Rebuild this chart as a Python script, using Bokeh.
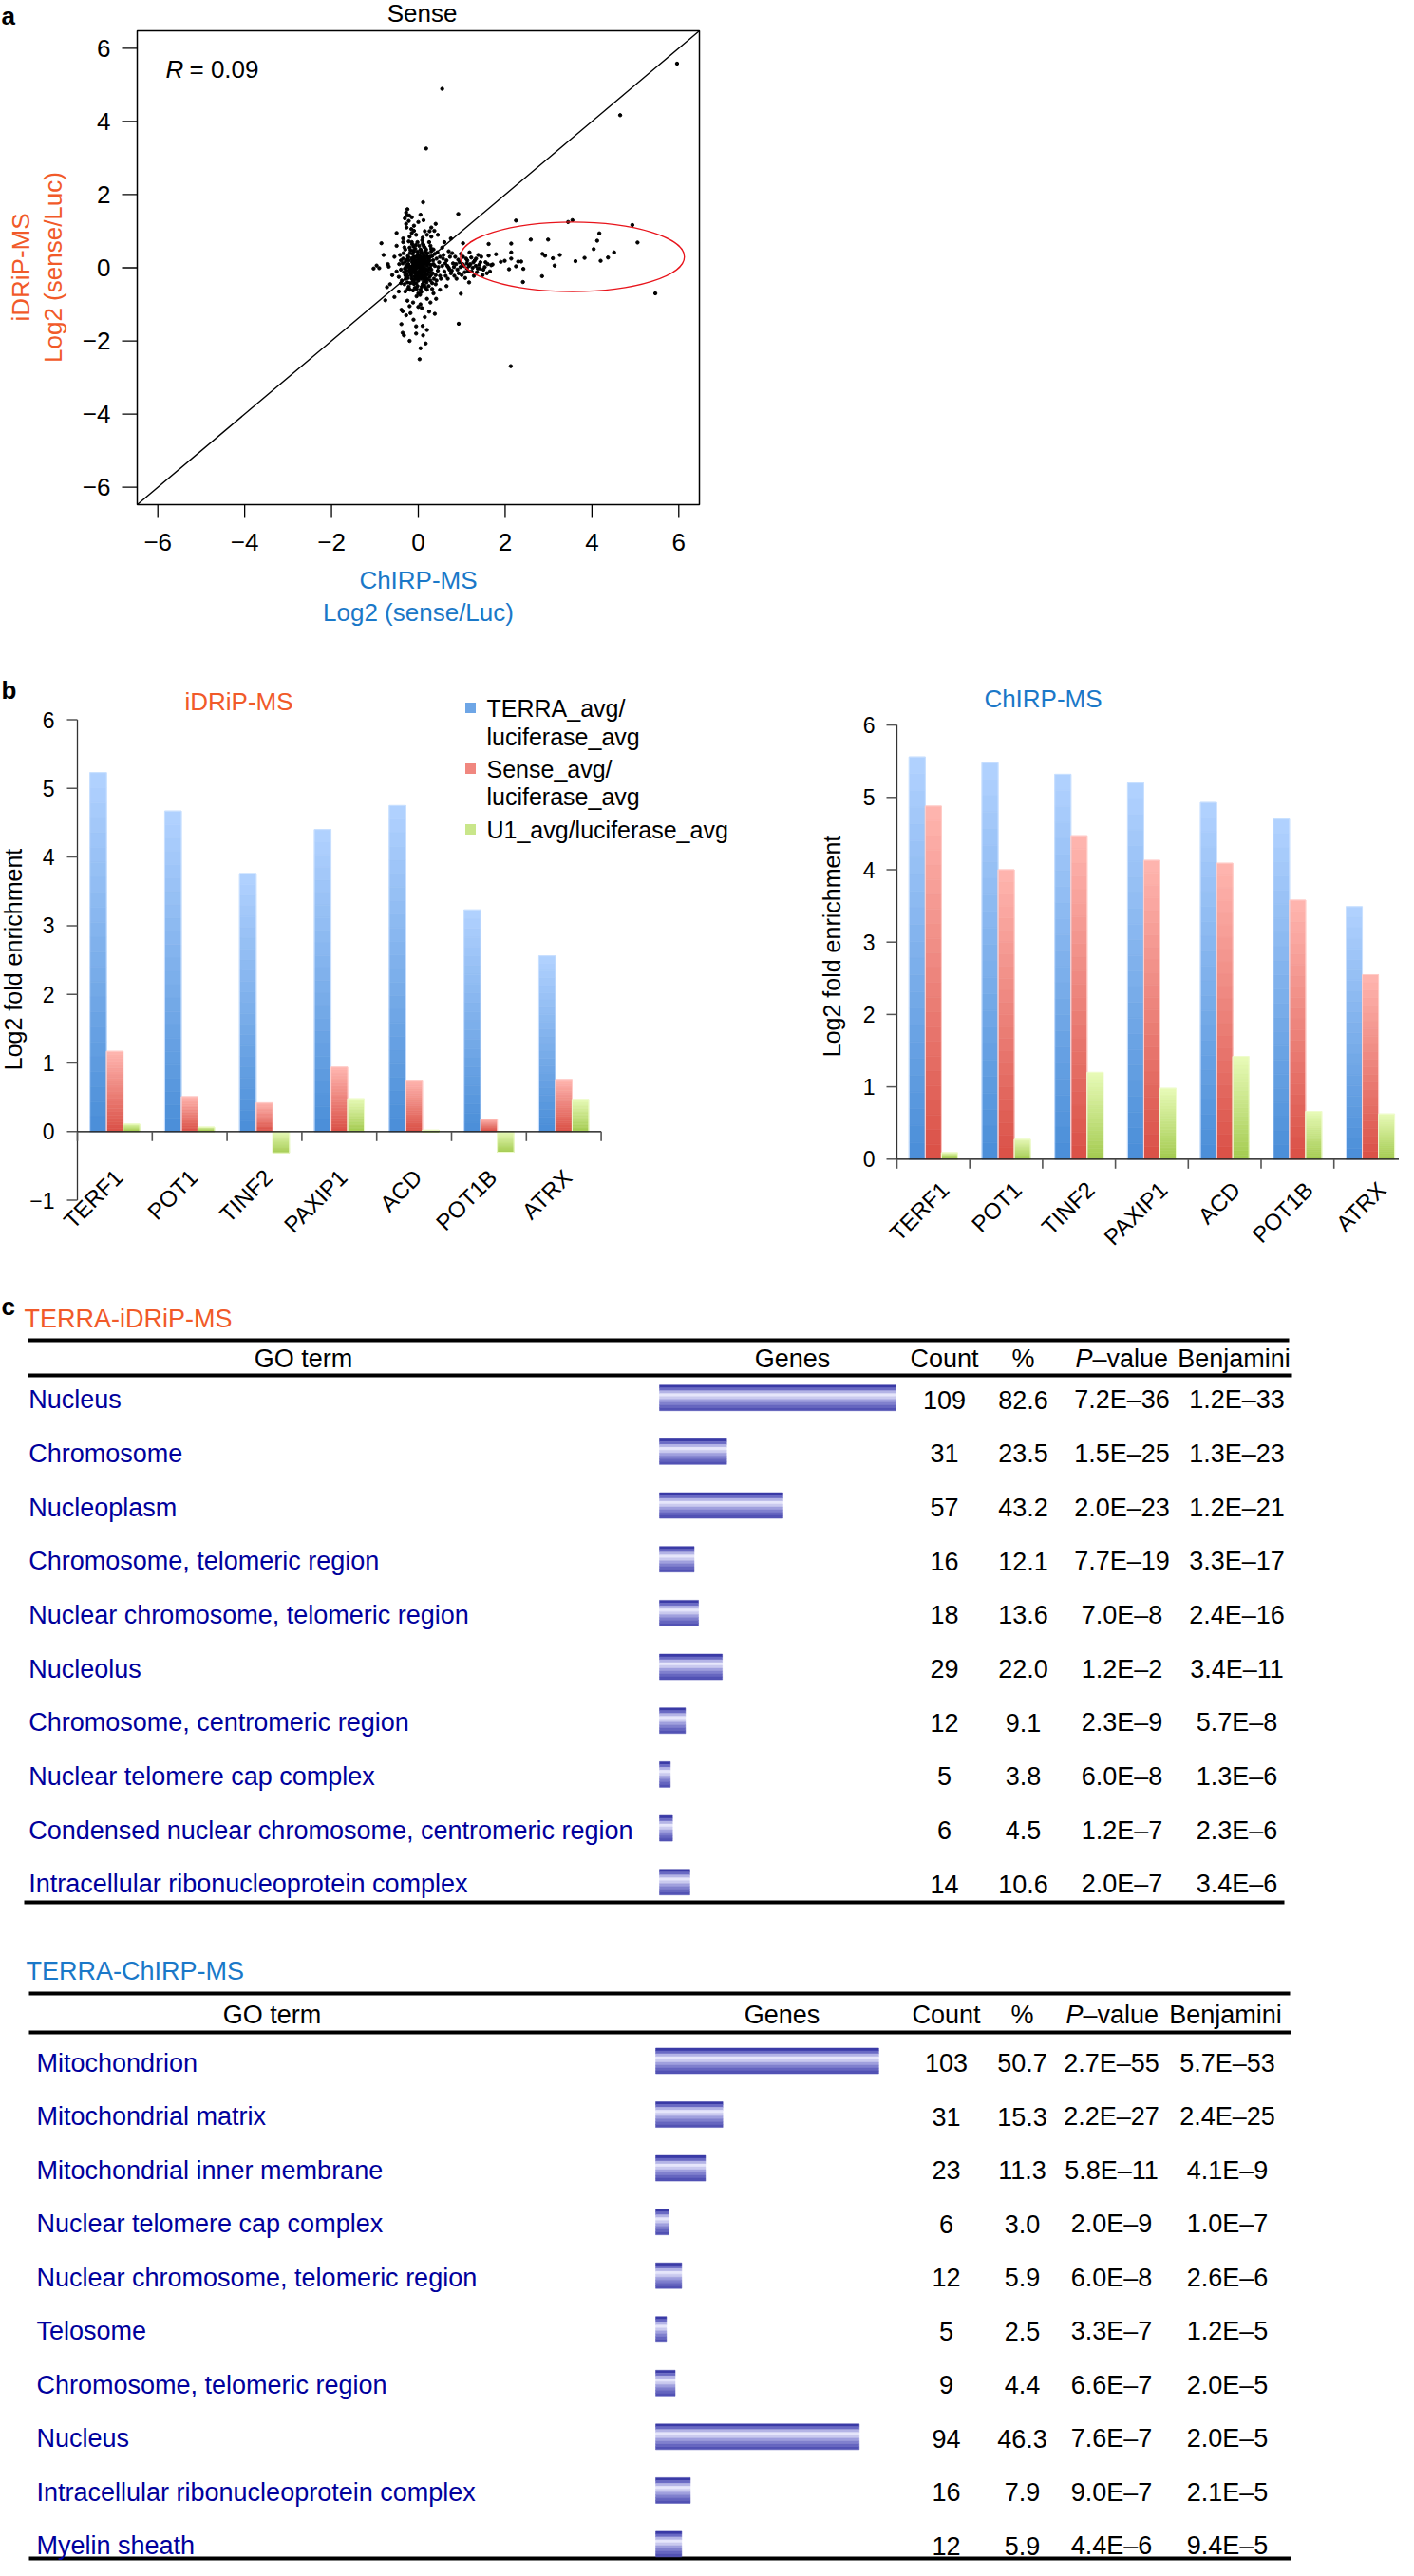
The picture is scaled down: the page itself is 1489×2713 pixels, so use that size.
import math
from bokeh.plotting import figure
from bokeh.models import ColumnDataSource, Range1d
from bokeh.embed import file_html
from bokeh.resources import INLINE
from bokeh.core.properties import value

FONT = "Liberation Sans"
ORANGE = "#F15A29"
BLUE = "#1A78C8"
NAVY = "#00009C"

# ------------------------------------------------------------------ panel a data
scatter_core = [
    (-0.02, 0.05), (0.05, -0.03), (0.1, 0.12), (-0.12, 0.08), (0.15, -0.1), (-0.08, -0.15), (0.02, 0.2),
    (0.2, 0.05), (-0.18, -0.02), (0.08, -0.22), (-0.05, 0.3), (0.25, 0.18), (-0.22, 0.2), (0.12, 0.35),
    (-0.15, -0.3), (0.3, -0.05), (0.0, -0.35), (-0.28, 0.05), (0.18, -0.28), (0.06, 0.42), (-0.1, 0.45),
    (0.22, 0.4), (-0.3, -0.2), (0.35, 0.1), (-0.25, -0.4), (0.1, -0.45), (-0.02, -0.5), (0.28, -0.35),
    (-0.35, 0.25), (0.4, -0.2), (-0.4, -0.05), (0.15, 0.55), (-0.2, 0.55), (0.05, -0.6), (-0.12, -0.62),
    (0.32, 0.32), (-0.06, 0.62), (0.24, -0.5), (-0.32, -0.45), (0.42, 0.25), (0.03, 0.1), (-0.07, -0.05),
    (0.13, 0.02), (-0.14, 0.15), (0.09, -0.12), (-0.03, -0.2), (0.17, 0.22), (-0.2, -0.12), (0.07, 0.28),
    (-0.09, 0.22), (0.21, -0.18), (-0.16, -0.22), (0.0, 0.0), (0.04, -0.08), (-0.04, 0.13), (0.11, 0.08),
    (-0.11, -0.09), (0.19, 0.12), (-0.23, 0.1), (0.14, -0.3), (-0.01, 0.36), (0.27, 0.0), (-0.27, -0.08),
    (0.05, 0.5), (-0.13, 0.38), (0.33, -0.15), (-0.05, -0.42), (0.16, 0.45), (-0.24, 0.32), (0.36, -0.3),
    (0.01, -0.15), (-0.17, 0.02), (0.23, 0.28), (0.08, 0.18), (-0.19, 0.4), (0.12, -0.38), (-0.08, -0.32),
    (0.26, -0.25), (-0.29, -0.3), (0.38, 0.05), (0.02, 0.6), (-0.36, 0.12), (0.3, 0.45), (-0.22, -0.52),
    (0.17, -0.55), (0.45, -0.08), (-0.42, 0.35), (0.1, 0.66), (-0.15, 0.7), (0.0, -0.7), (0.2, 0.3),
    (-0.06, 0.02), (0.06, 0.06), (-0.1, 0.3), (0.14, -0.18), (0.24, 0.1), (-0.26, 0.22), (0.34, 0.2),
    (0.19, -0.4), (-0.18, -0.42), (0.07, -0.3), (-0.33, -0.12), (0.48, 0.15), (0.5, -0.22), (-0.45, -0.25),
    (0.09, 0.75), (-0.04, -0.78), (0.28, 0.6), (-0.3, 0.5), (0.4, -0.45),
    (0.04, 0.16), (-0.02, -0.1), (0.12, -0.05), (-0.13, -0.02), (0.07, 0.01), (-0.05, 0.2), (0.16, 0.15),
    (-0.09, -0.24), (0.2, -0.08), (-0.21, 0.05), (0.0, 0.26), (0.1, -0.26), (-0.15, 0.26), (0.25, 0.22),
    (-0.26, -0.18), (0.02, -0.28), (0.3, 0.08), (-0.3, 0.16), (0.14, 0.3), (-0.12, -0.36), (0.22, -0.32),
    (-0.02, 0.44), (0.18, 0.5), (-0.18, 0.48), (0.08, -0.52), (-0.08, -0.55), (0.32, -0.42), (-0.38, -0.35),
    (0.38, 0.38), (-0.34, 0.4), (0.0, 0.12), (0.06, -0.16), (-0.08, 0.09), (0.11, 0.24), (-0.17, -0.1),
    (0.15, -0.22), (-0.04, -0.3), (0.26, -0.12), (-0.24, -0.28), (0.04, 0.34), (0.19, 0.38), (-0.07, 0.52),
    (0.29, -0.2), (-0.31, -0.02), (0.13, 0.58), (-0.11, 0.58), (0.07, -0.66), (-0.19, -0.6), (0.35, 0.5),
    (-0.4, 0.2),
    (0.02, 0.03), (-0.03, 0.07), (0.08, -0.06), (-0.1, 0.0), (0.13, 0.1), (-0.06, -0.12), (0.1, 0.2),
    (-0.14, 0.22), (0.18, -0.04), (-0.2, -0.06), (0.03, -0.24), (-0.01, 0.32), (0.22, 0.16), (-0.23, 0.28),
    (0.16, -0.34), (-0.1, -0.44), (0.27, 0.3), (-0.28, -0.24), (0.06, 0.48), (-0.04, -0.58), (0.12, 0.62),
    (-0.14, 0.64), (0.2, -0.6), (-0.24, -0.58), (0.3, 0.52), (-0.32, 0.56), (0.42, -0.35), (-0.4, -0.42),
    (0.44, 0.42), (-0.44, 0.1), (0.46, 0.02), (0.08, 0.08), (-0.09, 0.16), (0.15, -0.14), (-0.16, -0.16),
    (0.05, 0.24), (-0.05, -0.26), (0.24, -0.04), (-0.25, 0.02), (0.1, 0.4), (-0.12, 0.46), (0.14, -0.48),
    (-0.02, 0.7), (0.04, -0.74), (0.25, 0.7), (-0.22, 0.72), (0.32, -0.58), (-0.3, -0.65), (0.5, 0.3),
    (-0.5, -0.1),
]
scatter_tail = [
    (0.55, 0.05), (0.6, -0.1), (0.65, 0.2), (0.7, 0.0), (0.75, -0.15), (0.8, 0.12), (0.85, 0.3), (0.9, -0.05),
    (0.95, 0.15), (1.0, -0.2), (1.05, 0.05), (1.1, 0.25), (1.15, -0.1), (1.2, 0.1), (1.25, 0.0), (1.3, 0.2),
    (1.35, -0.12), (1.4, 0.08), (1.45, 0.3), (1.5, -0.05), (1.55, 0.15), (0.58, 0.35), (0.68, -0.3),
    (0.78, 0.4), (0.88, -0.3), (0.98, 0.38), (1.08, -0.28), (1.18, 0.42), (1.28, -0.22), (1.38, 0.35),
    (1.48, -0.2), (0.62, 0.12), (0.72, -0.05), (0.82, 0.02), (0.92, 0.22), (1.02, 0.1), (1.12, -0.02),
    (1.22, 0.28), (1.32, 0.05), (1.42, -0.02), (1.6, 0.1), (1.65, -0.1), (1.12, 0.12), (1.27, 0.15),
    (0.52, -0.3), (0.57, 0.25), (0.63, -0.22), (0.67, 0.05), (0.73, 0.3), (0.77, -0.08), (0.83, -0.22),
    (0.87, 0.1), (0.93, -0.15), (0.97, 0.02), (1.03, 0.3), (1.07, -0.12), (1.13, 0.2), (1.17, 0.05),
    (1.23, -0.1), (1.33, 0.25), (1.37, -0.02), (1.43, 0.15), (1.53, 0.02), (1.58, -0.15),
]
scatter_halo = [
    (-0.55, 0.3), (-0.6, -0.2), (-0.7, 0.1), (-0.5, 0.6), (-0.45, -0.65), (0.55, 0.55), (0.5, -0.6),
    (0.3, 0.85), (-0.35, 0.8), (0.2, -0.85), (-0.25, -0.9), (0.6, 0.7), (-0.65, -0.45), (0.7, 0.45),
    (-0.15, 0.95), (0.15, 1.0), (0.05, -1.0), (-0.5, 0.95), (0.45, 0.9), (-0.8, 0.35), (0.65, -0.5),
    (-0.1, 1.15), (0.3, 1.1), (0.4, 1.2), (0.2, 0.9), (0.35, -0.7), (-0.2, -1.05), (0.25, -1.2),
    (-0.2, 0.85), (-0.05, 0.9), (0.1, 0.82), (-0.28, 1.2), (0.0, 1.25), (0.12, 1.3), (-0.15, 1.38),
    (0.05, 1.45), (-0.25, 1.6), (-0.12, -0.95), (0.08, -1.1), (-0.28, -1.3), (0.15, -1.35), (-0.05, -1.6),
    (0.2, -1.7), (-0.2, -2.0), (0.05, -2.2), (-0.35, 0.7), (0.28, -0.95), (-0.55, -0.8),
]
scatter_outliers = [
    (5.96, 5.58), (4.65, 4.17), (0.55, 4.89), (0.18, 3.26), (0.11, 1.79), (0.92, 1.47),
    (2.25, 1.29), (3.45, 1.25), (3.55, 1.30), (4.93, 1.17), (5.05, 0.69), (4.17, 0.94), (4.12, 0.74),
    (4.04, 0.51), (4.51, 0.42), (4.37, 0.28), (4.20, 0.19), (3.83, 0.27), (3.62, 0.18), (3.26, 0.35),
    (3.10, 0.26), (3.14, 0.06), (2.86, 0.38), (2.92, 0.33), (2.99, 0.77), (2.59, 0.77), (2.85, -0.23),
    (2.41, -0.39), (2.42, -0.03), (2.30, 0.17), (2.37, 0.17), (2.25, 0.04), (2.09, -0.04), (2.14, 0.66),
    (2.14, 0.42), (2.14, 0.25), (1.99, 0.19), (1.90, 0.16), (1.79, 0.37), (1.62, 0.65), (1.62, 0.33),
    (1.68, 0.07), (1.71, 0.09), (5.46, -0.70), (2.13, -2.69), (1.17, -0.40),
    (-0.28, 1.51), (-0.26, 1.43), (-0.21, 1.43), (-0.31, 1.35), (-0.22, 1.28), (-0.27, 1.10), (-0.16, 1.06),
    (-0.10, 1.01), (0.37, 1.01), (0.26, 1.00), (-0.85, 0.67), (0.75, 0.80), (1.03, 0.67), (-0.96, 0.06),
    (-0.90, -0.01), (-1.03, -0.02), (-0.68, 0.03), (-0.72, -0.53), (-0.76, -0.89), (-0.39, -1.15),
    (-0.36, -1.19), (-0.18, -1.24), (-0.11, -1.42), (0.0, -1.07), (-0.39, -1.54), (-0.33, -1.85),
    (-0.36, -1.78), (-0.05, -1.80), (0.10, -1.59), (0.11, -1.85), (0.17, -2.07), (0.03, -2.50),
    (0.38, -1.26), (0.93, -1.53), (0.98, -0.71), (0.41, -0.85),
]
ellipse_x, ellipse_y = 3.55, 0.30
ellipse_w, ellipse_h = 5.16, 1.90
r_value = "= 0.09"
ticks_a = [-6, -4, -2, 0, 2, 4, 6]

# ------------------------------------------------------------------ panel b data
genes = ["TERF1", "POT1", "TINF2", "PAXIP1", "ACD", "POT1B", "ATRX"]
idrip_terra = [5.23, 4.67, 3.76, 4.40, 4.75, 3.23, 2.56]
idrip_sense = [1.17, 0.51, 0.42, 0.94, 0.75, 0.18, 0.76]
idrip_u1 = [0.11, 0.065, -0.31, 0.48, 0.02, -0.30, 0.47]
chirp_terra = [5.56, 5.48, 5.32, 5.20, 4.93, 4.70, 3.49]
chirp_sense = [4.88, 4.00, 4.47, 4.13, 4.09, 3.58, 2.55]
chirp_u1 = [0.09, 0.275, 1.20, 0.98, 1.42, 0.66, 0.625]
legend_lines = [["TERRA_avg/", "luciferase_avg"], ["Sense_avg/", "luciferase_avg"], ["U1_avg/luciferase_avg"]]

# ------------------------------------------------------------------ panel c data
go1_terms = ["Nucleus", "Chromosome", "Nucleoplasm", "Chromosome, telomeric region",
             "Nuclear chromosome, telomeric region", "Nucleolus", "Chromosome, centromeric region",
             "Nuclear telomere cap complex", "Condensed nuclear chromosome, centromeric region",
             "Intracellular ribonucleoprotein complex"]
go1_count = [109, 31, 57, 16, 18, 29, 12, 5, 6, 14]
go1_pct = ["82.6", "23.5", "43.2", "12.1", "13.6", "22.0", "9.1", "3.8", "4.5", "10.6"]
go1_p = ["7.2E–36", "1.5E–25", "2.0E–23", "7.7E–19", "7.0E–8", "1.2E–2", "2.3E–9", "6.0E–8", "1.2E–7", "2.0E–7"]
go1_benj = ["1.2E–33", "1.3E–23", "1.2E–21", "3.3E–17", "2.4E–16", "3.4E–11", "5.7E–8", "1.3E–6", "2.3E–6", "3.4E–6"]

go2_terms = ["Mitochondrion", "Mitochondrial matrix", "Mitochondrial inner membrane",
             "Nuclear telomere cap complex", "Nuclear chromosome, telomeric region", "Telosome",
             "Chromosome, telomeric region", "Nucleus", "Intracellular ribonucleoprotein complex", "Myelin sheath"]
go2_count = [103, 31, 23, 6, 12, 5, 9, 94, 16, 12]
go2_pct = ["50.7", "15.3", "11.3", "3.0", "5.9", "2.5", "4.4", "46.3", "7.9", "5.9"]
go2_p = ["2.7E–55", "2.2E–27", "5.8E–11", "2.0E–9", "6.0E–8", "3.3E–7", "6.6E–7", "7.6E–7", "9.0E–7", "4.4E–6"]
go2_benj = ["5.7E–53", "2.4E–25", "4.1E–9", "1.0E–7", "2.6E–6", "1.2E–5", "2.0E–5", "2.0E–5", "2.1E–5", "9.4E–5"]


# ------------------------------------------------------------------ helpers
def lerp_hex(c1, c2, t):
    a = [int(c1[i:i + 2], 16) for i in (1, 3, 5)]
    b = [int(c2[i:i + 2], 16) for i in (1, 3, 5)]
    return "#%02x%02x%02x" % tuple(int(round(a[j] + (b[j] - a[j]) * t)) for j in range(3))


def minus(t):
    return ("−%d" % -t) if t < 0 else ("%d" % t)


# One canvas; the default ranges are page pixels, each panel gets its own scales.
W, H = 1473, 2697
X0, Y0 = 8, 8
p = figure(width=W, height=H, x_range=Range1d(X0, X0 + W), y_range=Range1d(Y0 + H, Y0),
           x_axis_location=None, y_axis_location=None, min_border=0,
           output_backend="svg", toolbar_location=None, tools="")
p.grid.visible = False
p.outline_line_color = None
p.background_fill_color = "white"
p.border_fill_color = "white"

# panel a geometry (page px)
A_FL, A_FT, A_FW, A_FH = 152, 40, 592, 499
A_FB = A_FT + A_FH
lim = 6.475


def a_x(px):
    return -lim + (px - A_FL) / A_FW * 2 * lim


def a_y(py):
    return lim - (py - A_FT) / A_FH * 2 * lim


# panel b geometry
L_FL, L_UX, L_Y0, L_UY = 89, 78.8, 1199.3, 72.3
R_FL, R_UX, R_Y0, R_UY = 952, 76.7, 1228.3, 76.2


def l_x(px):
    return (px - L_FL) / L_UX


def l_y(py):
    return (L_Y0 - py) / L_UY


def r_x(px):
    return (px - R_FL) / R_UX


def r_y(py):
    return (R_Y0 - py) / R_UY


PX_PER_GENE = 2.28
G1_X0, G2_X0 = 702, 698

p.extra_x_ranges = {
    "ax": Range1d(a_x(X0), a_x(X0 + W)),
    "lx": Range1d(l_x(X0), l_x(X0 + W)),
    "rx": Range1d(r_x(X0), r_x(X0 + W)),
    "g1": Range1d((X0 - G1_X0) / PX_PER_GENE, (X0 + W - G1_X0) / PX_PER_GENE),
    "g2": Range1d((X0 - G2_X0) / PX_PER_GENE, (X0 + W - G2_X0) / PX_PER_GENE),
}
p.extra_y_ranges = {
    "ay": Range1d(a_y(Y0 + H), a_y(Y0)),
    "ly": Range1d(l_y(Y0 + H), l_y(Y0)),
    "ry": Range1d(r_y(Y0 + H), r_y(Y0)),
}


def txt(x, y, s, size, color="black", align="left", baseline="middle", style="normal", rx="default",
        ry="default", **kw):
    p.text(x=x if isinstance(x, list) else [x], y=y if isinstance(y, list) else [y],
           text=s if isinstance(s, list) else [s], text_font=value(FONT), text_font_size=value(size),
           text_color=color, text_align=align, text_baseline=baseline, text_font_style=style,
           x_range_name=rx, y_range_name=ry, **kw)


# ================================================================== panel a
txt(9, 9, "a", "26px", style="bold", baseline="top")
txt(452, 21, "Sense", "26px", align="center")
txt(448, 618, "ChIRP-MS", "26px", color=BLUE, align="center")
txt(448, 652, "Log2 (sense/Luc)", "26px", color=BLUE, align="center")
txt(29, 289, "iDRiP-MS", "26px", color=ORANGE, align="center", angle=math.pi / 2)
txt(63, 289, "Log2 (sense/Luc)", "26px", color=ORANGE, align="center", angle=math.pi / 2)

nA = len(ticks_a)
tick_labels_a = [minus(t) for t in ticks_a]
# x axis ticks + labels
p.segment(x0=ticks_a, y0=[-lim] * nA, x1=ticks_a, y1=[a_y(A_FB + 14)] * nA, line_color="black",
          line_width=1.3, x_range_name="ax", y_range_name="ay")
txt(ticks_a, [-lim] * nA, tick_labels_a, "26px", align="center", rx="ax", ry="ay", y_offset=39)
# y axis ticks + labels
p.segment(x0=[-lim] * nA, y0=ticks_a, x1=[a_x(A_FL - 16)] * nA, y1=ticks_a, line_color="black",
          line_width=1.3, x_range_name="ax", y_range_name="ay")
txt([-lim] * nA, ticks_a, tick_labels_a, "26px", align="right", rx="ax", ry="ay", x_offset=-28)

# box, diagonal, points, ellipse
p.quad(left=[-lim], right=[lim], bottom=[-lim], top=[lim], fill_color=None, line_color="black",
       line_width=1.5, x_range_name="ax", y_range_name="ay")
p.line(x=[-lim, lim], y=[-lim, lim], line_color="black", line_width=1.4, x_range_name="ax", y_range_name="ay")
pts = scatter_core + scatter_tail + scatter_halo + scatter_outliers
p.scatter(x=[q[0] for q in pts], y=[q[1] for q in pts], size=3.4, color="black", marker="circle",
          x_range_name="ax", y_range_name="ay")
p.ellipse(x=[ellipse_x], y=[ellipse_y], width=[ellipse_w], height=[ellipse_h], fill_color=None,
          line_color="#E8141B", line_width=1.3, x_range_name="ax", y_range_name="ay")
txt(a_x(182), a_y(80), "R", "26px", style="italic", rx="ax", ry="ay")
txt(a_x(182), a_y(80), r_value, "26px", rx="ax", ry="ay", x_offset=25)

# ================================================================== panel b
BW = 0.222
N_SL = 24
PALETTES = [("#b2d2ff", "#4a8ed8"), ("#ffb6b0", "#da5046"), ("#e8fbb8", "#a4cb50")]
LEG_COL = ["#6ea6e6", "#f0877f", "#c9e68a"]


def add_bars(series, rx, ry):
    d = dict(left=[], right=[], top=[], bottom=[], color=[])
    o = dict(left=[], right=[], top=[], bottom=[], color=[])
    for s, vals in enumerate(series):
        light, dark = PALETTES[s]
        for i, v in enumerate(vals):
            c = i + 0.5 + (s - 1) * BW
            l, r = c - BW / 2, c + BW / 2
            top, bot = max(v, 0.0), min(v, 0.0)
            h = top - bot
            for k in range(N_SL):
                d["left"].append(l)
                d["right"].append(r)
                d["top"].append(top - h * k / N_SL)
                d["bottom"].append(top - h * (k + 1) / N_SL)
                d["color"].append(lerp_hex(light, dark, (k + 0.5) / N_SL))
            o["left"].append(l)
            o["right"].append(r)
            o["top"].append(top)
            o["bottom"].append(bot)
            o["color"].append(lerp_hex(light, "#ffffff", 0.3))
    p.quad(source=ColumnDataSource(d), left="left", right="right", top="top", bottom="bottom",
           fill_color="color", line_color="color", line_width=0.6, x_range_name=rx, y_range_name=ry)
    p.quad(source=ColumnDataSource(o), left="left", right="right", top="top", bottom="bottom",
           fill_color=None, line_color="color", line_width=1.0, x_range_name=rx, y_range_name=ry)


def bar_axes(lo, rx, ry, fx, fl, fy, y0pix, lab_dx, xoff, yoff):
    yt = list(range(lo, 7))
    m = len(yt)
    n = len(genes)
    # y axis
    p.segment(x0=[0], y0=[lo], x1=[0], y1=[6], line_color="#333333", line_width=1.3,
              x_range_name=rx, y_range_name=ry)
    p.segment(x0=[0] * m, y0=yt, x1=[fx(fl - 11)] * m, y1=yt, line_color="#555555", line_width=1.5,
              x_range_name=rx, y_range_name=ry)
    txt([0] * m, yt, [minus(t) for t in yt], "23px", align="right", rx=rx, ry=ry, x_offset=lab_dx)
    # category axis at zero
    p.segment(x0=[0], y0=[0], x1=[n], y1=[0], line_color="black", line_width=1.3,
              x_range_name=rx, y_range_name=ry)
    p.segment(x0=list(range(n + 1)), y0=[0] * (n + 1), x1=list(range(n + 1)), y1=[fy(y0pix + 10)] * (n + 1),
              line_color="#555555", line_width=1.6, x_range_name=rx, y_range_name=ry)
    txt([i + 0.5 for i in range(n)], [0] * n, genes, "24px", align="right", rx=rx, ry=ry,
        angle=math.pi / 4, x_offset=xoff, y_offset=yoff)


# --- left (iDRiP-MS)
txt(9, 734, "b", "26px", style="bold")
txt(21, 1018, "Log2 fold enrichment", "25px", align="center", angle=math.pi / 2)
add_bars([idrip_terra, idrip_sense, idrip_u1], "lx", "ly")
bar_axes(-1, "lx", "ly", l_x, L_FL, l_y, L_Y0, -24, 4, 44)
txt(259, 746, "iDRiP-MS", "26px", color=ORANGE, align="center")
leg_y = [[753, 783], [817, 846], [881]]
for s, lines in enumerate(legend_lines):
    p.rect(x=[503], y=[leg_y[s][0]], width=11, height=11, width_units="screen", height_units="screen",
           fill_color=LEG_COL[s], line_color=None)
    for j, ln in enumerate(lines):
        txt(520, leg_y[s][j], ln, "25px")

# --- right (ChIRP-MS)
txt(883, 1004, "Log2 fold enrichment", "25px", align="center", angle=math.pi / 2)
add_bars([chirp_terra, chirp_sense, chirp_u1], "rx", "ry")
bar_axes(0, "rx", "ry", r_x, R_FL, r_y, R_Y0, -23, 12, 28)
txt(1106, 743, "ChIRP-MS", "26px", color=BLUE, align="center")

# ================================================================== panel c
STRIPES = ["#3a3aa6", "#6a6ac4", "#b4b4e6", "#e6e6fb", "#cacaef", "#a0a0de", "#8080ce", "#6666c0", "#5252b4"]
txt(9, 1383, "c", "26px", style="bold")

TABLES = [
    dict(title="TERRA-iDRiP-MS", tcolor=ORANGE, tx=33, ty=1396,
         lines=[(37, 1365, 1419), (37, 1368, 1456), (33, 1360, 2011)], hy=1438,
         hx=(327, 842, 1002, 1085, 1158, 1307), y0=1481.7, dy=56.67, term_x=37.7,
         cols=(1002, 1085, 1189, 1310), rng="g1",
         terms=go1_terms, count=go1_count, pct=go1_pct, p=go1_p, benj=go1_benj),
    dict(title="TERRA-ChIRP-MS", tcolor=BLUE, tx=35, ty=2083,
         lines=[(38, 1366, 2107), (38, 1367, 2148), (38, 1367, 2702)], hy=2129,
         hx=(294, 831, 1004, 1084, 1148, 1298), y0=2180, dy=56.55, term_x=46,
         cols=(1004, 1084, 1178, 1300), rng="g2",
         terms=go2_terms, count=go2_count, pct=go2_pct, p=go2_p, benj=go2_benj),
]

for T in TABLES:
    txt(T["tx"], T["ty"], T["title"], "27px", color=T["tcolor"])
    p.segment(x0=[l[0] for l in T["lines"]], x1=[l[1] for l in T["lines"]],
              y0=[l[2] for l in T["lines"]], y1=[l[2] for l in T["lines"]],
              line_color="black", line_width=4)
    hx = T["hx"]
    txt(hx[0], T["hy"], "GO term", "27px", align="center")
    txt(hx[1], T["hy"], "Genes", "27px", align="center")
    txt(hx[2], T["hy"], "Count", "27px", align="center")
    txt(hx[3], T["hy"], "%", "27px", align="center")
    txt(hx[4], T["hy"], "P", "27px", align="right", style="italic")
    txt(hx[4], T["hy"], "–value", "27px", align="left")
    txt(hx[5], T["hy"], "Benjamini", "27px", align="center")
    n = len(T["terms"])
    ys = [T["y0"] + i * T["dy"] for i in range(n)]
    txt([T["term_x"]] * n, ys, T["terms"], "27px", color=NAVY)
    for col, vals in zip(T["cols"], ([str(c) for c in T["count"]], T["pct"], T["p"], T["benj"])):
        txt([col] * n, ys, vals, "27px", align="center")
    bh = 27.0
    sh = bh / len(STRIPES)
    bd = dict(y=[], right=[], color=[])
    for i in range(n):
        for k, col in enumerate(STRIPES):
            bd["y"].append(ys[i] - 2 - bh / 2 + (k + 0.5) * sh)
            bd["right"].append(T["count"][i])
            bd["color"].append(col)
    p.hbar(source=ColumnDataSource(bd), y="y", height=sh, left=0, right="right",
           fill_color="color", line_color="color", line_width=0.5, x_range_name=T["rng"])

open("out.html", "w").write(file_html(p, INLINE))
